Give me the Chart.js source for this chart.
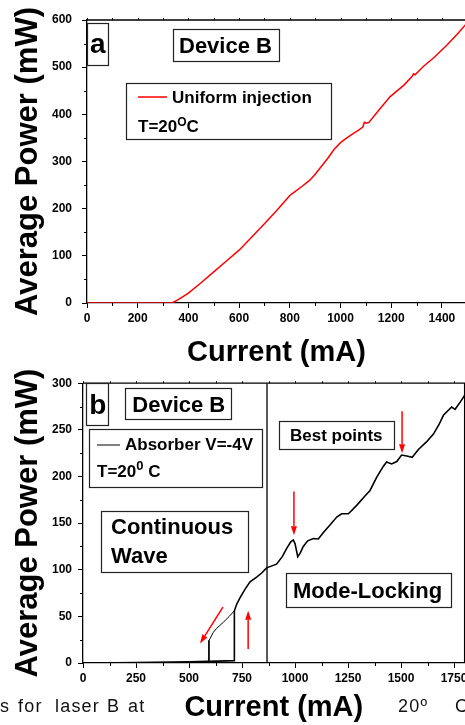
<!DOCTYPE html>
<html>
<head>
<meta charset="utf-8">
<script src="https://cdn.jsdelivr.net/npm/chart.js@4.4.1/dist/chart.umd.min.js"></script>
<style>
    html, body { margin: 0; padding: 0; background: #fff; overflow: hidden; }
    body { width: 465px; height: 725px; position: relative; }
    #topChart { position: absolute; left: 0; top: 0; }
    #bottomChart { position: absolute; left: 0; top: 370px; }
    .caption { position: absolute; top: 696px; font-family: "Liberation Sans", Arial, sans-serif; font-size: 18px; line-height: 20px; letter-spacing: 1.2px; color: #111; white-space: nowrap; }
</style>
</head>
<body>
<canvas id="topChart" width="466" height="370"></canvas>
<canvas id="bottomChart" width="480" height="355"></canvas>
<span class="caption" style="left:0px">s</span>
<span class="caption" style="left:18px">for</span>
<span class="caption" style="left:55px">laser</span>
<span class="caption" style="left:107px">B</span>
<span class="caption" style="left:128px">at</span>
<span class="caption" style="left:398px">20º</span>
<span class="caption" style="left:455px">C</span>
<script>
// (a) uniform injection, T=20 C
const topCurrent = [0, 100, 200, 300, 335, 360, 400, 450, 500, 550, 600, 650, 700, 750, 800, 815, 850, 880, 900, 950, 975, 1000, 1025, 1050, 1070, 1088, 1094, 1102, 1112, 1150, 1195, 1250, 1282, 1288, 1294, 1330, 1370, 1420, 1460, 1495];
const topPower = [0, 0, 0, 0, 0, 7, 21, 43, 66, 89, 112, 140, 168, 197, 228, 234, 248, 261, 273, 307, 326, 340, 350, 359, 366, 373, 383, 381, 383, 408, 437, 462, 480, 486, 484, 503, 521, 547, 570, 591];

// (b) absorber V=-4V, rising sweep
const sweepCurrent = [0, 150, 250, 500, 594, 714, 714, 725, 741, 764, 788, 819, 843, 866, 913, 940, 961, 980, 992, 1000, 1013, 1025, 1039, 1060, 1087, 1110, 1134, 1165, 1197, 1220, 1252, 1291, 1330, 1354, 1385, 1417, 1432, 1456, 1480, 1503, 1527, 1553, 1582, 1620, 1653, 1680, 1700, 1739, 1755, 1780, 1800];
const sweepPower = [0, 0.3, 0.6, 1.2, 1.7, 2.5, 56, 63, 70, 79, 87, 92, 96.5, 102, 106, 114, 123, 130, 132, 128, 114, 118, 125, 131, 133.5, 133, 140, 148, 156.5, 160, 160, 169, 179, 185, 199, 211, 215.6, 213.5, 216, 223, 222, 220.5, 229, 237, 245.5, 256, 265.6, 274.5, 272, 280, 287];

// (b) falling sweep (hysteresis)
const backCurrent = [714, 690, 662, 630, 615, 599, 594, 594];
const backPower = [56, 50, 43.7, 37, 33, 26, 24.3, 1.7];

const modeLockBoundary = 868;

const topXTicks = [0, 200, 400, 600, 800, 1000, 1200, 1400];
const topYTicks = [0, 100, 200, 300, 400, 500, 600];
const bottomXTicks = [0, 250, 500, 750, 1000, 1250, 1500, 1750];
const bottomYTicks = [0, 50, 100, 150, 200, 250, 300];

// red arrows, [current, power] from -> to
const arrowFrom = [[995, 184], [1505, 270], [660, 60], [779, 15]];
const arrowTo = [[995, 137], [1505, 225], [552, 21], [779, 56]];

const FONT = '"Liberation Sans", Arial, Helvetica, sans-serif';

function toPoints(xs, ys) {
    return xs.map((x, i) => ({x: x, y: ys[i]}));
}

function minorTicks(ticks, max) {
    let step = ticks[1] - ticks[0];
    let out = [];
    for (let v = ticks[0] + step / 2; v < max; v += step) out.push(v);
    return out;
}

// frame (top + right border) and minor ticks
const framePlugin = {
    id: 'frame',
    afterDraw(chart, args, opts) {
        const ctx = chart.ctx, a = chart.chartArea, sx = chart.scales.x, sy = chart.scales.y;
        ctx.save();
        ctx.strokeStyle = '#000';
        ctx.lineWidth = 1.3;
        ctx.beginPath();
        ctx.moveTo(a.left, a.top);
        ctx.lineTo(a.right, a.top);
        ctx.lineTo(a.right, a.bottom);
        ctx.stroke();

        ctx.lineWidth = 1;
        ctx.beginPath();
        opts.xMinor.forEach(v => {
            let px = Math.round(sx.getPixelForValue(v)) + 0.5;
            ctx.moveTo(px, a.bottom);
            ctx.lineTo(px, a.bottom + 3);
        });
        opts.yMinor.forEach(v => {
            let py = Math.round(sy.getPixelForValue(v)) + 0.5;
            ctx.moveTo(a.left, py);
            ctx.lineTo(a.left - 3, py);
        });
        opts.xMinor.concat(opts.xMajor).forEach(v => {
            let px = Math.round(sx.getPixelForValue(v)) + 0.5;
            ctx.moveTo(px, a.top);
            ctx.lineTo(px, a.top - 2);
        });
        ctx.stroke();
        ctx.restore();
    }
};

function drawRuns(ctx, x, y, runs) {
    runs.forEach(r => {
        ctx.font = 'bold ' + r[1] + 'px ' + FONT;
        ctx.fillText(r[0], x, y - (r[2] || 0));
        x += ctx.measureText(r[0]).width;
    });
}

// text boxes drawn in canvas pixels
const boxPlugin = {
    id: 'boxes',
    afterDraw(chart, args, opts) {
        const ctx = chart.ctx;
        ctx.save();
        ctx.textBaseline = 'alphabetic';
        ctx.textAlign = 'left';
        opts.items.forEach(b => {
            ctx.fillStyle = '#fff';
            ctx.fillRect(b.box[0], b.box[1], b.box[2], b.box[3]);
            ctx.strokeStyle = '#222';
            ctx.lineWidth = 1.2;
            ctx.strokeRect(b.box[0] + 0.5, b.box[1] + 0.5, b.box[2], b.box[3]);
            if (b.sample) {
                ctx.strokeStyle = b.sample[3];
                ctx.lineWidth = b.sample[4];
                ctx.beginPath();
                ctx.moveTo(b.sample[0], b.sample[2]);
                ctx.lineTo(b.sample[1], b.sample[2]);
                ctx.stroke();
            }
            ctx.fillStyle = '#000';
            b.lines.forEach(l => drawRuns(ctx, l[0], l[1], l[2]));
        });
        ctx.restore();
    }
};

const arrowPlugin = {
    id: 'arrows',
    afterDatasetsDraw(chart, args, opts) {
        if (!opts.from) return;
        const ctx = chart.ctx, sx = chart.scales.x, sy = chart.scales.y;
        ctx.save();
        ctx.strokeStyle = '#f00';
        ctx.fillStyle = '#f00';
        ctx.lineWidth = 1.5;
        opts.from.forEach((f, i) => {
            let x1 = sx.getPixelForValue(f[0]), y1 = sy.getPixelForValue(f[1]);
            let x2 = sx.getPixelForValue(opts.to[i][0]), y2 = sy.getPixelForValue(opts.to[i][1]);
            let ang = Math.atan2(y2 - y1, x2 - x1);
            let hl = 9, hw = 3;
            let bx = x2 - hl * Math.cos(ang), by = y2 - hl * Math.sin(ang);
            ctx.beginPath();
            ctx.moveTo(x1, y1);
            ctx.lineTo(bx, by);
            ctx.stroke();
            ctx.beginPath();
            ctx.moveTo(x2, y2);
            ctx.lineTo(bx + hw * Math.sin(ang), by - hw * Math.cos(ang));
            ctx.lineTo(bx - hw * Math.sin(ang), by + hw * Math.cos(ang));
            ctx.closePath();
            ctx.fill();
        });
        ctx.restore();
    }
};

function axisOptions(cfg) {
    const tickFont = {family: FONT, size: 12, weight: 'bold'};
    return {
        x: {
            type: 'linear', min: 0, max: cfg.xMax,
            afterBuildTicks: s => { s.ticks = cfg.xTicks.map(v => ({value: v})); },
            afterFit: s => { s.height = cfg.xHeight; },
            ticks: {font: tickFont, color: '#000', padding: 3, maxRotation: 0, callback: v => String(v)},
            grid: {drawOnChartArea: false, tickLength: 5, color: '#000', lineWidth: 1},
            border: {display: true, color: '#000', width: 1.3},
            title: {display: true, text: 'Current (mA)', color: '#000', font: {family: FONT, size: 29, weight: 'bold'}, padding: {top: 0, bottom: 0}}
        },
        y: {
            type: 'linear', min: 0, max: cfg.yMax,
            afterBuildTicks: s => { s.ticks = cfg.yTicks.map(v => ({value: v})); },
            afterFit: s => { s.width = cfg.yWidth; },
            ticks: {font: tickFont, color: '#000', padding: cfg.yPad, callback: v => String(v)},
            grid: {drawOnChartArea: false, tickLength: 5, color: '#000', lineWidth: 1},
            border: {display: true, color: '#000', width: 1.3},
            title: {display: true, text: 'Average Power (mW)', color: '#000', font: {family: FONT, size: 31, weight: 'bold'}, padding: {top: 10, bottom: 0}}
        }
    };
}

// Chart (a)
new Chart(document.getElementById('topChart').getContext('2d'), {
    type: 'line',
    data: {
        datasets: [{
            label: 'Uniform injection',
            data: toPoints(topCurrent, topPower),
            borderColor: '#ff0000',
            borderWidth: 1.5,
            pointRadius: 0,
            tension: 0
        }]
    },
    options: {
        responsive: false, animation: false, devicePixelRatio: 1,
        layout: {padding: {top: 20, left: 0, right: 0, bottom: 0}},
        scales: axisOptions({xMax: 1495, yMax: 600, xTicks: topXTicks, yTicks: topYTicks, xHeight: 67, yWidth: 87, yPad: 10}),
        plugins: {
            legend: {display: false}, tooltip: {enabled: false},
            frame: {xMajor: topXTicks, xMinor: minorTicks(topXTicks, 1495), yMinor: minorTicks(topYTicks, 600)},
            boxes: {items: [
                {box: [87, 23, 21, 42], lines: [[90, 53, [['a', 28]]]]},
                {box: [173, 29, 106, 32], lines: [[179, 53.3, [['Device B', 22]]]]},
                {box: [126, 83, 205, 56], sample: [138, 167, 97, '#ff0000', 1.5],
                    lines: [[172, 103, [['Uniform injection', 17]]], [138, 131.7, [['T=20', 17], ['O', 12, 6], ['C', 17]]]]}
            ]}
        }
    },
    plugins: [framePlugin, boxPlugin]
});

// Chart (b)
new Chart(document.getElementById('bottomChart').getContext('2d'), {
    type: 'line',
    data: {
        datasets: [{
            label: 'Absorber V=-4V',
            data: toPoints(sweepCurrent, sweepPower),
            borderColor: '#000',
            borderWidth: 1.6,
            pointRadius: 0,
            tension: 0
        }, {
            label: 'falling',
            data: toPoints(backCurrent, backPower),
            borderColor: '#000',
            borderWidth: 1,
            pointRadius: 0,
            tension: 0
        }, {
            label: 'boundary',
            data: [{x: modeLockBoundary, y: 0}, {x: modeLockBoundary, y: 300}],
            borderColor: '#000',
            borderWidth: 1.3,
            pointRadius: 0
        }]
    },
    options: {
        responsive: false, animation: false, devicePixelRatio: 1,
        layout: {padding: {top: 9, left: 0, right: 15.4, bottom: 0}},
        scales: axisOptions({xMax: 1800, yMax: 300, xTicks: bottomXTicks, yTicks: bottomYTicks, xHeight: 62, yWidth: 83, yPad: 6}),
        plugins: {
            legend: {display: false}, tooltip: {enabled: false},
            frame: {xMajor: bottomXTicks, xMinor: minorTicks(bottomXTicks, 1800), yMinor: minorTicks(bottomYTicks, 300)},
            arrows: {from: arrowFrom, to: arrowTo},
            boxes: {items: [
                {box: [86, 13, 22, 42], lines: [[89.3, 44, [['b', 28]]]]},
                {box: [125, 18, 106, 31], lines: [[132.3, 41.7, [['Device B', 22]]]]},
                {box: [89, 59, 173, 58], sample: [97, 120, 75, '#000', 1],
                    lines: [[125, 80, [['Absorber V=-4V', 17]]], [97, 107.3, [['T=20', 17], ['0', 13, 7], [' C', 17]]]]},
                {box: [279, 51, 115, 28], lines: [[290, 71, [['Best points', 17]]]]},
                {box: [101, 141, 147, 61], lines: [[111, 164, [['Continuous', 22]]], [111, 193, [['Wave', 22]]]]},
                {box: [286, 203, 165, 34], lines: [[293, 228, [['Mode-Locking', 22]]]]}
            ]}
        }
    },
    plugins: [framePlugin, boxPlugin, arrowPlugin]
});
</script>
</body>
</html>
